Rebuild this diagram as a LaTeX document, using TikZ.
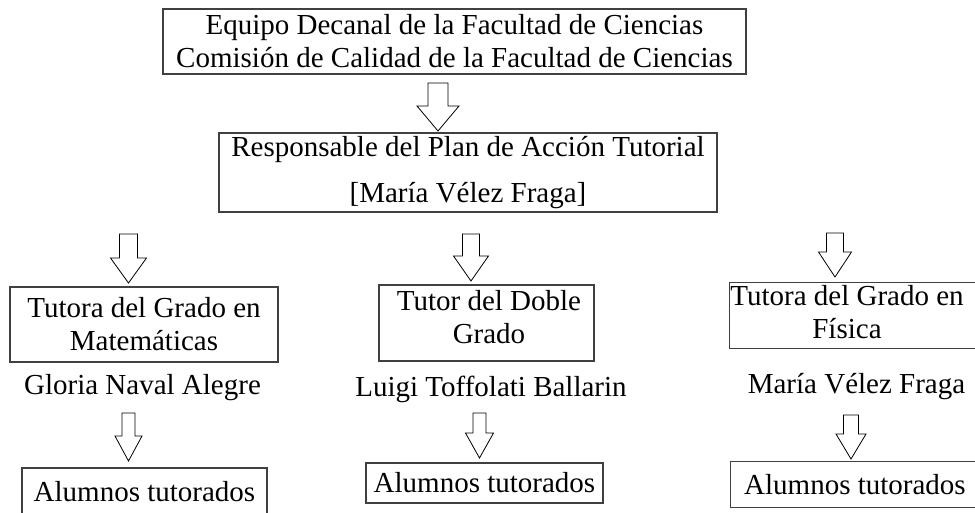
\documentclass[tikz,border=0pt]{standalone}
\usepackage{fontspec}
\setmainfont{Liberation Serif}
\usetikzlibrary{calc,positioning}

% hollow block arrow: from, to, shaft half width, head half width
\newcommand{\flecha}[4]{%
  \draw[flechita] ($(#1)+(-#3,0)$) -- ($(#2)+(-#3,-25)$) -- ($(#2)+(-#4,-25)$)
    -- (#2) -- ($(#2)+(#4,-25)$) -- ($(#2)+(#3,-25)$) -- ($(#1)+(#3,0)$) -- cycle;}

\begin{document}
\begin{tikzpicture}[x=1pt,y=-1pt,
    caja/.style={draw=black!75,line width=1.2pt,rectangle,inner sep=0pt,align=center,
      font=\fontsize{29}{33}\selectfont},
    texto/.style={inner sep=0pt,align=center,font=\fontsize{29}{33}\selectfont},
    flechita/.style={draw=black,line width=0.8pt,fill=white,line join=miter}]
\useasboundingbox (0,0) rectangle (975,513);

\node[caja,minimum width=583,minimum height=65] (decanato) at (454.5,41.5)
  {Equipo Decanal de la Facultad de Ciencias\\Comisión de Calidad de la Facultad de Ciencias};
\node[caja,minimum width=498,minimum height=79] (responsable) at (468,172.5)
  {Responsable del Plan de Acción Tutorial\\[13pt]{[}María Vélez Fraga{]}};

\node[caja,minimum width=268,minimum height=75] (matematicas) at (144,324.5)
  {Tutora del Grado en\\Matemáticas};
\node[caja,minimum width=215,minimum height=76] (doble) at (486.5,323) {};
\node[texto] (dobletxt) at (489,317) {Tutor del Doble\\Grado};
\node[caja,minimum width=270,minimum height=66,anchor=north west] (fisica) at (729,282) {};
\node[texto] (fisicatxt) at (847,312) {Tutora del Grado en\\Física};

\node[texto] (gloria) at (142.5,388) {Gloria Naval Alegre};
\node[texto] (luigi) at (491,389) {Luigi Toffolati Ballarin};
\node[texto] (maria) at (856.5,387) {María Vélez Fraga};

\node[caja,minimum width=245,minimum height=48] (alumnos1) at (144.5,492) {Alumnos tutorados};
\node[caja,minimum width=237,minimum height=40] (alumnos2) at (484.5,483) {Alumnos tutorados};
\node[caja,minimum width=270,minimum height=46,anchor=north west] (alumnos3) at (730,461) {};
\node[texto] (alumnos3txt) at (855,485) {Alumnos tutorados};

% arrows
\coordinate (f0a) at (438,83);   \coordinate (f0b) at (438,131);
\coordinate (f1a) at (128.5,234); \coordinate (f1b) at (128.5,283);
\coordinate (f2a) at (471,234);  \coordinate (f2b) at (471,281);
\coordinate (f3a) at (835,233);  \coordinate (f3b) at (835,277);
\coordinate (f4a) at (128.5,413); \coordinate (f4b) at (128.5,461);
\coordinate (f5a) at (479.5,413); \coordinate (f5b) at (479.5,458);
\coordinate (f6a) at (851,415);  \coordinate (f6b) at (851,459);

\flecha{f0a}{f0b}{10}{21}
\flecha{f1a}{f1b}{9}{18}
\flecha{f2a}{f2b}{8.5}{17.5}
\flecha{f3a}{f3b}{8.5}{16.5}
\flecha{f4a}{f4b}{6.5}{13.5}
\flecha{f5a}{f5b}{6.5}{14}
\flecha{f6a}{f6b}{7.5}{15}
\end{tikzpicture}
\end{document}
